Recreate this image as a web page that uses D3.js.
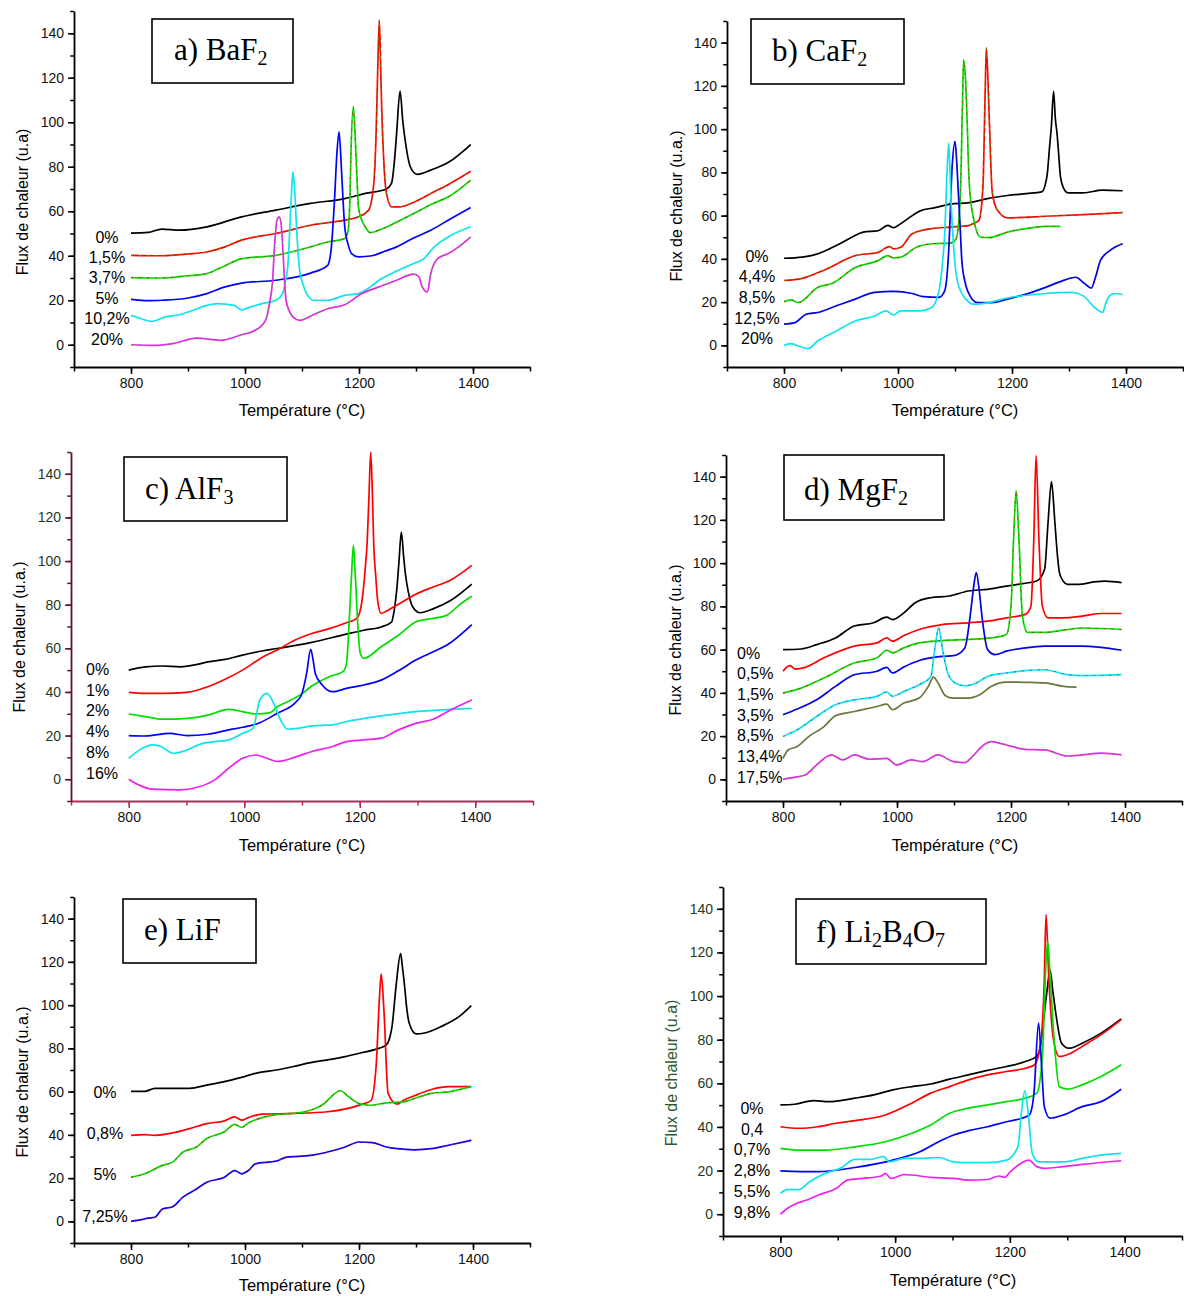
<!DOCTYPE html>
<html>
<head>
<meta charset="utf-8">
<script src="https://cdn.jsdelivr.net/npm/d3@7"></script>
<style>
  body { margin: 0; background: #ffffff; }
  svg { display: block; }
</style>
</head>
<body>
<svg id="chart" width="1184" height="1296"></svg>
<script>
// ---------------- DATA ----------------
const xTickValues = [800, 1000, 1200, 1400];
const xMinorTicks = [700, 800, 900, 1000, 1100, 1200, 1300, 1400, 1500];
const yTickValues = [0, 20, 40, 60, 80, 100, 120, 140];
const yMinorTicks = [-10, 0, 10, 20, 30, 40, 50, 60, 70, 80, 90, 100, 110, 120, 130, 140, 150];
const xDomain = [700, 1500];
const yDomain = [-10, 150];
const xAxisTitle = "Température (°C)";

// Panel a) BaF2
const aTitle = [["a) BaF", false], ["2", true]];
const aYTitle = "Flux de chaleur (u.a)";
const aLabels = ["0%", "1,5%", "3,7%", "5%", "10,2%", "20%"];
const a_0 = [[800,50.2],[830,50.5],[854,52],[885,51.5],[933,53],[994,57.5],[1054,60.5],[1115,63.5],[1175,65.7],[1211,68],[1248,70],[1257,72.5],[1263,85],[1266,95],[1272,114],[1277,100],[1281,92],[1286,84],[1290,80],[1302,76.6],[1326,78.5],[1357,82],[1396,90]];
const a_15 = [[800,40.2],[854,40],[900,40.8],[933,41.7],[965,44],[994,47],[1054,50],[1115,53.7],[1175,56],[1199,57.5],[1217,60.5],[1226,72.5],[1230,95],[1233,125],[1235.6,146],[1238,125],[1240,105],[1243,85],[1246,72.5],[1251,65],[1257,62],[1272,62],[1300,64.5],[1326,68],[1360,72.5],[1396,78]];
const a_37 = [[800,30.2],[854,30],[900,31],[933,32],[965,35.5],[994,38.7],[1054,40.2],[1115,44],[1145,46.2],[1175,47.7],[1181,51.5],[1184,65],[1186,87],[1190,107],[1193,95],[1196,78],[1199,62],[1205,56],[1211,53],[1220,50.4],[1235,51.5],[1265,55],[1296,59],[1330,63.5],[1357,66.5],[1396,74]];
const a_5 = [[800,20.4],[830,19.8],[854,20],[900,21],[933,23],[965,26],[994,27.7],[1054,29],[1115,32.2],[1145,35.7],[1151,42.5],[1157,65],[1161,85],[1165,95.7],[1169,80],[1172,65],[1175,53],[1181,45],[1187,41],[1199,39.5],[1223,40],[1245,42],[1266,44],[1296,48],[1326,51.5],[1360,56.5],[1396,61.7]];
const a_102 = [[800,13.2],[818,11.7],[836,10.5],[860,12.5],[885,13.5],[909,15.5],[933,17.7],[951,18.5],[981,17.7],[994,15.7],[1010,17],[1030,18.5],[1054,20],[1066,23],[1072,30],[1075,35],[1081,65],[1084,77.7],[1087,70],[1089,60],[1093,42],[1096,33],[1102,27],[1108,23],[1121,20],[1145,20],[1175,22.2],[1199,23],[1220,26],[1235,29],[1265,33],[1296,36.5],[1314,38.7],[1332,44],[1357,48.5],[1396,53]];
const a_20 = [[800,0],[842,-0.3],[873,0.5],[915,3],[957,2],[994,4.5],[1018,6.5],[1036,11],[1044,20],[1048,27.5],[1052,45],[1056,56],[1060,57.5],[1063,55],[1066,45],[1069,30],[1072,20],[1078,15],[1084,12.5],[1096,11],[1120,13.5],[1145,16.2],[1175,18],[1205,23],[1235,26],[1266,29],[1296,31.7],[1305,30.5],[1311,26],[1320,23.7],[1326,32],[1338,38.7],[1357,41],[1375,44],[1396,48.5]];

// Panel b) CaF2
const bTitle = [["b) CaF", false], ["2", true]];
const bYTitle = "Flux de chaleur (u.a.)";
const bLabels = ["0%", "4,4%", "8,5%", "12,5%", "20%"];
const b_0 = [[800,40.3],[832,40.8],[859,42.3],[892,46.2],[919,50],[939,52.4],[965,53],[982,55.5],[992,54.4],[1005,56.3],[1025,60],[1039,62.2],[1065,63.7],[1092,65.3],[1125,66],[1159,68],[1192,69.3],[1225,70.2],[1252,71],[1258,74],[1262,79.5],[1266,92],[1269,101],[1273,117.5],[1276,105],[1279,98],[1282,88],[1285,78],[1290,73],[1299,70.5],[1325,70.5],[1359,71.8],[1394,71.5]];
const b_44 = [[800,30],[832,31],[872,35],[925,41.5],[965,43],[985,45.7],[992,44.6],[1005,45.4],[1025,51.6],[1059,54],[1092,54.7],[1125,55.5],[1132,56.3],[1142,57.8],[1149,73.3],[1153,118],[1155,137.6],[1159,113.6],[1162,90],[1165,71.8],[1170,65],[1179,61],[1192,59],[1259,59.7],[1325,60.5],[1394,61.4]];
const b_85 = [[800,20.2],[812,21],[825,19.8],[859,26.8],[885,28.7],[925,36],[965,39.2],[982,41.5],[992,40.5],[1005,40.8],[1032,45.4],[1059,47],[1092,47.3],[1102,49.3],[1109,67],[1113,110],[1115,132],[1118,125],[1120,113.6],[1125,75],[1132,59.4],[1145,50],[1159,49.8],[1192,52.4],[1225,54],[1259,55],[1285,55]];
const b_125 = [[800,9.8],[819,10.5],[839,14.4],[859,15.2],[892,18.3],[925,21.4],[959,24.5],[992,25],[1025,24],[1045,22.5],[1072,22.2],[1082,25.3],[1089,43.9],[1095,82.6],[1100,94.2],[1103,85],[1105,74.9],[1109,55],[1112,39.2],[1117,30],[1122,25.3],[1139,19.8],[1165,19.8],[1192,21.4],[1225,23.7],[1259,26.8],[1292,30.2],[1312,31.5],[1325,29.1],[1339,26.5],[1347,32],[1355,39.2],[1372,43.9],[1394,47]];
const b_20 = [[800,0],[812,0.8],[825,-0.3],[842,-1.5],[859,2],[892,6.7],[925,11.3],[959,13.6],[979,16],[992,14.1],[1005,16],[1039,16],[1059,17.5],[1072,25.3],[1078,38],[1082,51.6],[1086,80],[1089,93.5],[1091,82],[1093,67],[1097,48],[1102,33],[1110,25],[1119,21.4],[1132,19.1],[1159,19.8],[1192,21.9],[1259,24],[1305,24.5],[1325,22.9],[1345,17.5],[1359,15.2],[1364,19],[1369,22.2],[1379,24],[1394,23.4]];

// Panel c) AlF3
const cTitle = [["c) AlF", false], ["3", true]];
const cYTitle = "Flux de chaleur (u.a.)";
const cLabels = ["0%", "1%", "2%", "4%", "8%", "16%"];
const c_0 = [[800,50],[829,51.5],[859,51.9],[889,51.5],[919,52.6],[937,53.8],[967,54.9],[997,56.9],[1033,58.9],[1057,59.9],[1117,62.7],[1177,66.5],[1207,68.3],[1237,69.8],[1255,72],[1260,78],[1264,86.6],[1268,100],[1272,113.3],[1276,102],[1279,94.2],[1284,86],[1289,80.5],[1296,77.5],[1304,76.3],[1328,78.2],[1358,82],[1394,89.4]];
const c_1 = [[800,39.8],[829,39.3],[859,39.3],[901,39.8],[937,42.4],[967,45.8],[997,50],[1033,56.1],[1057,59.2],[1087,63.7],[1117,66.8],[1147,69],[1177,71.7],[1195,73.7],[1204,82],[1209,95],[1213,109.5],[1216,130],[1219,150],[1222,130],[1224,109.5],[1228,92],[1231,82],[1237,76],[1249,77.5],[1267,80.2],[1297,84.8],[1327,88.1],[1357,91.2],[1394,98]];
const c_2 = [[800,29.9],[829,28.7],[859,27.5],[901,27.9],[937,29.4],[973,32],[997,31],[1021,29.9],[1045,30.5],[1057,33.2],[1075,35.5],[1099,39],[1117,42.7],[1147,47],[1171,49.3],[1177,53],[1183,79],[1186,95],[1189,107.2],[1192,95],[1195,79],[1198,65],[1201,57.6],[1207,55.4],[1237,60.7],[1267,66],[1297,72.1],[1327,73.7],[1351,75.2],[1375,80.5],[1394,83.9]];
const c_4 = [[800,20],[829,19.8],[871,21],[901,20],[937,20.6],[973,22.6],[997,23.8],[1027,25.9],[1057,30.2],[1087,34.8],[1099,38.6],[1108,48.5],[1115,59.5],[1119,55],[1123,48.5],[1135,43.2],[1153,40.1],[1177,41.6],[1207,43.2],[1237,45.4],[1267,49.7],[1297,54.6],[1327,58.4],[1351,61.5],[1394,70.9]];
const c_8 = [[800,9.6],[817,13.1],[841,15.7],[853,15.3],[877,11.9],[901,13.4],[925,16.2],[949,17.2],[973,18],[997,21],[1015,23.3],[1027,36.3],[1039,39.3],[1051,34.8],[1063,27.1],[1075,22.9],[1093,23.3],[1117,24.4],[1153,24.9],[1177,26.4],[1237,29],[1297,31],[1357,32],[1394,32.5]];
const c_16 = [[800,0],[817,-2.6],[841,-4.6],[889,-4.9],[919,-3.7],[949,-0.3],[973,5],[997,9.6],[1021,11.1],[1039,9.6],[1057,8.1],[1087,10],[1117,12.7],[1153,15],[1177,17.2],[1207,18],[1237,18.8],[1267,22.6],[1297,25.6],[1327,27.5],[1357,31.7],[1394,36.3]];

// Panel d) MgF2
const dTitle = [["d) MgF", false], ["2", true]];
const dYTitle = "Flux de chaleur (u.a.)";
const dLabels = ["0%", "0,5%", "1,5%", "3,5%", "8,5%", "13,4%", "17,5%"];
const d_0 = [[800,60],[832,60.3],[859,62.3],[892,65.4],[925,70.9],[959,72.4],[982,75],[992,73.9],[1012,77],[1032,81.7],[1059,84],[1092,84.8],[1125,87.1],[1159,87.9],[1192,89.4],[1225,90.7],[1245,91.7],[1259,97.2],[1265,118.8],[1271,137.7],[1277,118.8],[1281,105],[1285,95.6],[1292,91.5],[1299,90.2],[1319,90.2],[1345,91.3],[1365,91.7],[1394,91]];
const d_05 = [[800,50],[812,52.6],[822,51],[839,51.8],[872,56.2],[925,61.6],[965,63.1],[982,65.4],[992,63.9],[1012,66.5],[1039,69.3],[1079,71.6],[1125,72.4],[1159,73.2],[1192,74.7],[1225,76.3],[1235,80.1],[1240,111],[1244,149.8],[1249,111],[1255,80.1],[1265,74.7],[1292,74.7],[1325,75.5],[1359,76.7],[1394,76.7]];
const d_15 = [[800,39.9],[832,42.2],[872,46.9],[925,53.8],[965,56.2],[982,59.7],[992,58.5],[1012,60.8],[1039,63.1],[1079,64.2],[1125,64.7],[1165,65.4],[1192,67],[1200,80.1],[1205,114.2],[1209,133.5],[1214,111],[1220,75.5],[1229,68],[1259,68],[1292,69],[1325,70],[1394,69.3]];
const d_35 = [[800,29.9],[825,32.5],[859,36.8],[892,43],[925,48.4],[965,50],[982,51.8],[992,49.2],[1012,52],[1039,55],[1079,56.9],[1099,57.2],[1119,60.8],[1129,77],[1134,88],[1139,95.6],[1144,88],[1149,75.5],[1159,60],[1172,57.7],[1192,59.3],[1225,60.8],[1259,61.6],[1325,61.6],[1394,59.7]];
const d_85 = [[800,19.8],[825,22.9],[859,29.1],[892,34.5],[925,36.8],[965,38.4],[982,40.4],[992,38.4],[1012,40.7],[1039,43.8],[1059,47.3],[1067,61.6],[1073,70.1],[1080,60],[1089,49.2],[1102,44.6],[1119,43.3],[1139,44.6],[1159,47.6],[1192,49.2],[1225,50.3],[1259,50.7],[1299,48.4],[1325,48],[1394,48.4]];
const d_134 = [[800,9.7],[809,13.6],[825,15.2],[845,19.8],[872,24.4],[892,29.4],[925,31.4],[965,33.7],[982,34.8],[992,32.2],[1012,35.3],[1039,37.6],[1055,43],[1064,47.3],[1072,44.6],[1085,38.7],[1099,37.6],[1125,37.6],[1145,39.1],[1165,43],[1192,45],[1225,44.9],[1259,44.6],[1292,43],[1315,42.7]];
const d_175 = [[800,0],[819,0.9],[839,2],[859,6.7],[885,11.3],[905,9],[925,11.3],[952,9.3],[982,9.7],[999,6.7],[1025,9],[1045,8.2],[1072,11.3],[1099,8.2],[1119,7.7],[1132,10.5],[1152,15.9],[1165,17.5],[1192,15.9],[1225,13.9],[1259,13.6],[1299,10.8],[1325,11.3],[1359,12.1],[1394,11.3]];

// Panel e) LiF
const eTitle = [["e) LiF", false]];
const eYTitle = "Flux de chaleur (u.a.)";
const eLabels = ["0%", "0,8%", "5%", "7,25%"];
const e_0 = [[800,60.1],[824,60.1],[842,61.5],[873,61.5],[903,61.5],[933,63],[964,64.6],[994,66.6],[1024,68.8],[1055,70],[1085,71.6],[1115,73.4],[1145,74.7],[1176,76.2],[1206,78.1],[1236,80.1],[1248,81.6],[1254,85],[1258,90.2],[1265,108.7],[1273,123.8],[1276,118],[1280,108.7],[1284,98],[1288,91.7],[1300,86.7],[1315,87.1],[1345,90.2],[1376,94.8],[1397,99.8]];
const e_08 = [[800,39.8],[824,40.1],[842,39.8],[873,40.9],[903,42.9],[933,45.2],[964,46.5],[982,48.3],[994,46.8],[1006,48],[1030,49.6],[1085,49.9],[1145,50.7],[1206,54.2],[1221,55.8],[1230,71.6],[1236,104.1],[1239,114.5],[1244,96.3],[1251,59.2],[1267,54.2],[1279,56.1],[1297,58.1],[1327,61],[1357,62.3],[1397,62.3]];
const e_5 = [[800,20.4],[824,22],[855,25.9],[873,27.4],[891,32],[915,34.4],[933,38.3],[964,41.4],[982,44.9],[994,43.4],[1006,45.5],[1030,48],[1055,49.4],[1085,49.9],[1115,51.4],[1139,54.5],[1151,57.6],[1167,60.4],[1182,57.6],[1200,54.5],[1218,53.7],[1248,54.8],[1279,55.3],[1297,56.8],[1327,59.2],[1357,59.9],[1397,62.3]];
const e_725 = [[800,0],[818,0.8],[830,1.5],[842,1.9],[855,5.7],[873,6.8],[891,11.2],[915,15],[933,18.1],[964,20.4],[982,23.5],[994,22],[1006,23.5],[1018,26.6],[1055,27.9],[1073,29.7],[1115,30.5],[1145,32.1],[1176,34.4],[1200,36.7],[1224,36.4],[1248,34.4],[1267,33.6],[1297,33.1],[1327,33.6],[1357,35.2],[1397,37.5]];

// Panel f) Li2B4O7
const fTitle = [["f) Li", false], ["2", true], ["B", false], ["4", true], ["O", false], ["7", true]];
const fYTitle = "Flux de chaleur (u.a)";
const fLabels = ["0%", "0,4", "0,7%", "2,8%", "5,5%", "9,8%"];
const f_0 = [[800,50.1],[825,50.4],[858,52.1],[884,51.6],[930,53.2],[963,54.7],[996,57],[1029,58.5],[1062,59.7],[1095,61.9],[1128,63.9],[1161,65.9],[1194,67.7],[1227,70],[1247,72.3],[1255,80],[1260,92.2],[1265,103],[1270,112],[1275,102],[1280,92.2],[1290,78.4],[1303,76.1],[1326,78.4],[1359,83],[1394,89.5]];
const f_04 = [[800,40.1],[832,39.4],[865,40.1],[897,41.7],[930,42.9],[983,45.5],[1029,50.9],[1062,55.5],[1095,58.5],[1128,61.6],[1161,63.9],[1194,65.4],[1227,66.9],[1243,68.5],[1253,76.9],[1260,107.5],[1263,137.4],[1268,107.5],[1276,80],[1286,72.3],[1306,73.8],[1326,76.9],[1359,82.3],[1394,89.2]];
const f_07 = [[800,30.2],[832,29.4],[878,29.4],[930,30.9],[983,33.2],[1029,37.1],[1062,40.9],[1095,46.3],[1128,48.6],[1161,50.1],[1194,51.6],[1227,53.2],[1247,55.5],[1257,73.8],[1262,110],[1266,125],[1270,110],[1278,76.9],[1286,58.5],[1300,57.3],[1326,59.3],[1359,63.1],[1394,68.5]];
const f_28 = [[800,19.9],[865,19.5],[930,21.4],[996,24.8],[1043,28.6],[1076,33.2],[1102,36.3],[1128,38.3],[1161,40.1],[1194,42.4],[1221,44],[1234,45.5],[1242,55.5],[1250,87.6],[1255,69.2],[1260,49.3],[1270,44],[1293,45.5],[1326,49.3],[1359,51.6],[1394,57.3]];
const f_55 = [[800,9.5],[812,11.3],[832,11.3],[851,14.9],[878,18.7],[904,21],[930,25.1],[957,25.1],[980,26.4],[990,24],[1016,25.6],[1049,25.6],[1076,26],[1102,24],[1128,23.6],[1161,23.6],[1194,24.8],[1214,30.9],[1220,46.3],[1226,56.5],[1232,46.3],[1239,27.9],[1250,24],[1293,24],[1326,25.6],[1359,27.1],[1394,27.9]];
const f_98 = [[800,0],[812,2.6],[828,4.9],[845,6.4],[865,8.7],[897,11.8],[917,15.6],[943,16.4],[976,17.5],[983,18.7],[993,16.4],[1016,18.2],[1062,16.9],[1102,16.4],[1128,15.6],[1161,15.9],[1181,17.5],[1191,16.9],[1201,19.5],[1221,23.6],[1233,24.8],[1247,21.8],[1260,21],[1293,21.8],[1326,22.8],[1394,24.5]];

// ---------------- STYLES / LAYOUT ----------------
const BLACK = "#000000", RED = "#ff0000", GREEN = "#00dd00", BLUE = "#0000ff",
      CYAN = "#10e4ea", MAGENTA = "#f020f0", OLIVE = "#7d6a45";

const panels = [
  { title: aTitle, yTitle: aYTitle, labels: aLabels,
    series: [a_0, a_15, a_37, a_5, a_102, a_20],
    colors: [BLACK, RED, GREEN, BLUE, CYAN, MAGENTA],
    overlays: [null, GREEN, RED, null, null, GREEN],
    x0: 74, x1: 530, yTop: 11, yBot: 367,
    box: [152, 19, 141, 64], titleX: 174, titleY: 60,
    ytX: 22, ytY: 202, xtX: 302, xtY: 410,
    labX: 107, labAnchor: "middle", labY0: 237, labStep: 20.4 },
  { title: bTitle, yTitle: bYTitle, labels: bLabels,
    series: [b_0, b_44, b_85, b_125, b_20],
    colors: [BLACK, RED, GREEN, BLUE, CYAN],
    overlays: [null, GREEN, RED, "#222222", null],
    x0: 727, x1: 1183, yTop: 21, yBot: 367,
    box: [751, 19, 153, 65], titleX: 772, titleY: 61,
    ytX: 676, ytY: 206, xtX: 955, xtY: 410,
    labX: 757, labAnchor: "middle", labY0: 256, labStep: 20.7 },
  { title: cTitle, yTitle: cYTitle, labels: cLabels,
    series: [c_0, c_1, c_2, c_4, c_8, c_16],
    colors: [BLACK, RED, GREEN, BLUE, CYAN, MAGENTA],
    overlays: [null, null, null, null, null, null],
    x0: 71, x1: 533, yTop: 452, yBot: 801,
    box: [124, 457, 163, 64], titleX: 145, titleY: 499,
    ytX: 19, ytY: 637, xtX: 302, xtY: 845,
    labX: 86, labAnchor: "start", labY0: 669, labStep: 20.9,
    xAxisColor: "#b02a5e", yAxisColor: "#5c1430", yTickColor: "#1d3b1d" },
  { title: dTitle, yTitle: dYTitle, labels: dLabels,
    series: [d_0, d_05, d_15, d_35, d_85, d_134, d_175],
    colors: [BLACK, RED, GREEN, BLUE, CYAN, OLIVE, MAGENTA],
    overlays: [null, null, RED, "#222222", "#3355aa", GREEN, GREEN],
    x0: 726, x1: 1182, yTop: 455, yBot: 801,
    box: [784, 455, 160, 65], titleX: 804, titleY: 500,
    ytX: 675, ytY: 640, xtX: 955, xtY: 845,
    labX: 737, labAnchor: "start", labY0: 653, labStep: 20.7 },
  { title: eTitle, yTitle: eYTitle, labels: eLabels,
    series: [e_0, e_08, e_5, e_725],
    colors: [BLACK, RED, GREEN, BLUE],
    overlays: [null, null, RED, RED],
    x0: 74, x1: 530, yTop: 897, yBot: 1243,
    box: [123, 899, 133, 64], titleX: 144, titleY: 940,
    ytX: 22, ytY: 1082, xtX: 302, xtY: 1285,
    labX: 105, labAnchor: "middle", labY0: 1092, labStep: 41.3 },
  { title: fTitle, yTitle: fYTitle, labels: fLabels,
    series: [f_0, f_04, f_07, f_28, f_55, f_98],
    colors: [BLACK, RED, GREEN, BLUE, CYAN, MAGENTA],
    overlays: [null, null, null, null, null, null],
    x0: 723, x1: 1182, yTop: 887, yBot: 1236,
    box: [796, 899, 190, 65], titleX: 816, titleY: 942,
    ytX: 671, ytY: 1073, xtX: 953, xtY: 1280,
    labX: 752, labAnchor: "middle", labY0: 1108, labStep: 20.9,
    yTitleColor: "#2d5a2d", yTickColor: "#1d3b1d" }
];

// ---------------- DRAW ----------------
const svg = d3.select("#chart");
const SANS = "'Liberation Sans', Arial, Helvetica, sans-serif";
const SERIF = "'Liberation Serif', 'Times New Roman', Times, serif";

panels.forEach(p => {
  const g = svg.append("g");
  const xColor = p.xAxisColor || "#000";
  const yColor = p.yAxisColor || "#000";
  const x = d3.scaleLinear().domain(xDomain).range([p.x0, p.x1]);
  const y = d3.scaleLinear().domain(yDomain).range([p.yBot, p.yTop]);

  // Minor x ticks
  const gxm = g.append("g").attr("transform", `translate(0,${p.yBot})`)
    .call(d3.axisBottom(x).tickValues(xMinorTicks).tickSize(4.5).tickFormat(""));
  gxm.select(".domain").remove();
  // Major x axis
  const gx = g.append("g").attr("transform", `translate(0,${p.yBot})`)
    .call(d3.axisBottom(x).tickValues(xTickValues).tickSize(7).tickPadding(4).tickSizeOuter(0).tickFormat(d3.format("d")));
  // Minor y ticks
  const gym = g.append("g").attr("transform", `translate(${p.x0},0)`)
    .call(d3.axisLeft(y).tickValues(yMinorTicks).tickSize(3.8).tickFormat(""));
  gym.select(".domain").remove();
  // Major y axis
  const gy = g.append("g").attr("transform", `translate(${p.x0},0)`)
    .call(d3.axisLeft(y).tickValues(yTickValues).tickSize(6).tickPadding(4).tickSizeOuter(0).tickFormat(d3.format("d")));

  [gx, gxm].forEach(a => {
    a.selectAll("path.domain").attr("stroke", xColor).attr("stroke-width", 1.8);
    a.selectAll(".tick line").attr("stroke", xColor).attr("stroke-width", 1.5);
  });
  [gy, gym].forEach(a => {
    a.selectAll("path.domain").attr("stroke", yColor).attr("stroke-width", 1.8);
    a.selectAll(".tick line").attr("stroke", yColor).attr("stroke-width", 1.5);
  });
  gx.selectAll(".tick text").attr("font-family", SANS).attr("font-size", 14).attr("fill", "#111");
  gy.selectAll(".tick text").attr("font-family", SANS).attr("font-size", 14).attr("fill", p.yTickColor || "#111");

  // Axis titles
  g.append("text")
    .attr("x", p.xtX).attr("y", p.xtY)
    .attr("text-anchor", "middle").attr("dy", "0.35em")
    .attr("font-family", SANS).attr("font-size", 16.5).attr("fill", "#000")
    .text(xAxisTitle);
  g.append("text")
    .attr("transform", `translate(${p.ytX},${p.ytY}) rotate(-90)`)
    .attr("text-anchor", "middle").attr("dy", "0.35em")
    .attr("font-family", SANS).attr("font-size", 16).attr("fill", p.yTitleColor || "#000")
    .text(p.yTitle);

  // Curves
  const line = d3.line().x(d => x(d[0])).y(d => y(d[1])).curve(d3.curveMonotoneX);
  p.series.forEach((s, i) => {
    g.append("path").datum(s)
      .attr("d", line).attr("fill", "none")
      .attr("stroke", p.colors[i]).attr("stroke-width", 1.7)
      .attr("stroke-linejoin", "round");
    if (p.overlays[i]) {
      g.append("path").datum(s)
        .attr("d", line).attr("fill", "none")
        .attr("stroke", p.overlays[i]).attr("stroke-width", 1.1)
        .attr("stroke-dasharray", "2,6").attr("opacity", 0.7);
    }
  });

  // Series labels
  p.labels.forEach((lab, i) => {
    g.append("text")
      .attr("x", p.labX).attr("y", p.labY0 + i * p.labStep)
      .attr("dy", "0.35em").attr("text-anchor", p.labAnchor)
      .attr("font-family", SANS).attr("font-size", 16).attr("fill", "#000")
      .text(lab);
  });

  // Title box
  g.append("rect")
    .attr("x", p.box[0]).attr("y", p.box[1]).attr("width", p.box[2]).attr("height", p.box[3])
    .attr("fill", "#fff").attr("stroke", "#000").attr("stroke-width", 1.6);
  const t = g.append("text")
    .attr("x", p.titleX).attr("y", p.titleY)
    .attr("font-family", SERIF).attr("font-size", 31).attr("fill", "#000");
  let sub = false;
  p.title.forEach(([txt, isSub]) => {
    const ts = t.append("tspan").text(txt);
    if (isSub && !sub) { ts.attr("dy", 5).attr("font-size", 20); sub = true; }
    else if (!isSub && sub) { ts.attr("dy", -5); sub = false; }
    else if (isSub) { ts.attr("font-size", 20); }
  });
});
</script>
</body>
</html>
